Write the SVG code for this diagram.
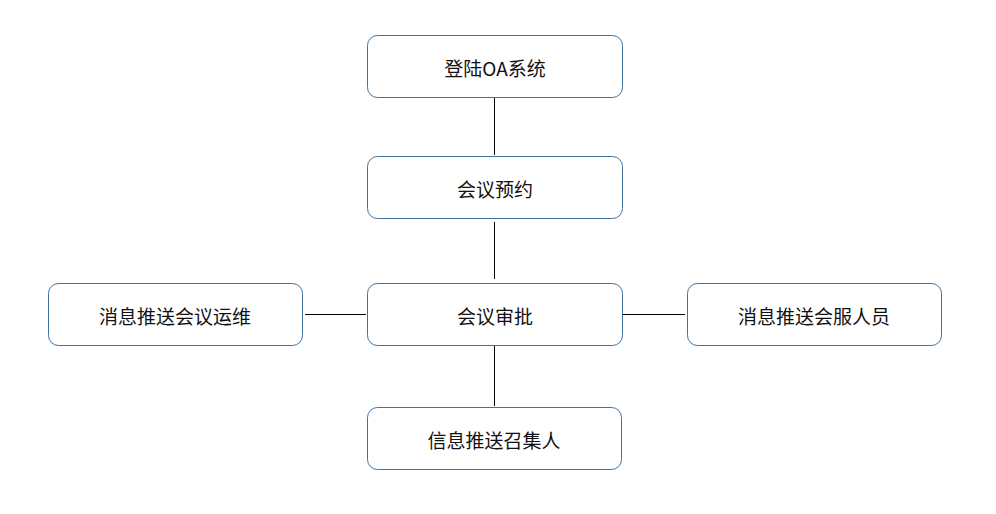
<svg xmlns="http://www.w3.org/2000/svg" width="996" height="514" viewBox="0 0 996 514">
<style>
.n rect{fill:#fff;stroke:#41719c;stroke-width:1}
.n text{font-family:"Noto Sans CJK SC","Noto Sans",sans-serif;font-size:19px;fill:#111;text-anchor:middle;dominant-baseline:central}
.c line{stroke:#000;stroke-width:1}
</style>
<rect width="996" height="514" fill="#fff"/>
<g class="c">
<line x1="494.5" y1="97" x2="494.5" y2="155"/>
<line x1="494.5" y1="222" x2="494.5" y2="279"/>
<line x1="494.5" y1="346" x2="494.5" y2="406"/>
<line x1="305" y1="314.5" x2="366" y2="314.5"/>
<line x1="622" y1="314.5" x2="685" y2="314.5"/>
</g>
<g id="n1" class="n"><rect x="367.5" y="35.5" width="255" height="62" rx="10"/><text x="495" y="67">登陆OA系统</text></g>
<g id="n2" class="n"><rect x="367.5" y="156.5" width="255" height="62" rx="10"/><text x="495" y="188">会议预约</text></g>
<g id="n3" class="n"><rect x="367.5" y="283.5" width="255" height="62" rx="10"/><text x="495" y="315">会议审批</text></g>
<g id="n4" class="n"><rect x="48.5" y="283.5" width="254" height="62" rx="10"/><text x="175" y="315">消息推送会议运维</text></g>
<g id="n5" class="n"><rect x="687.5" y="283.5" width="254" height="62" rx="10"/><text x="814" y="315">消息推送会服人员</text></g>
<g id="n6" class="n"><rect x="367.5" y="407.5" width="254" height="62" rx="10"/><text x="494" y="439">信息推送召集人</text></g>
</svg>
